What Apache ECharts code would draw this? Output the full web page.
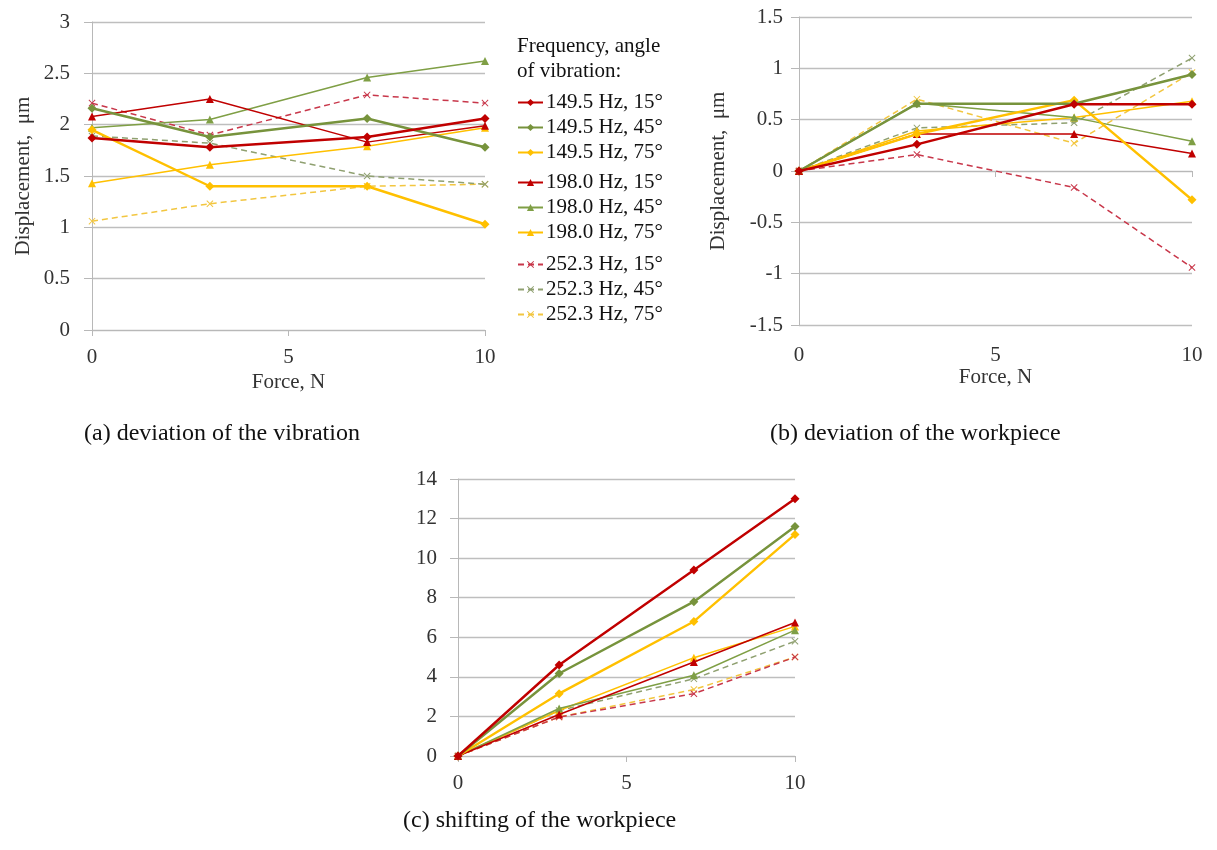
<!DOCTYPE html>
<html>
<head>
<meta charset="utf-8">
<script src="https://cdn.jsdelivr.net/npm/echarts@6/dist/echarts.min.js"></script>
<style>
html,body{margin:0;padding:0;background:#fff;}
#chart{width:1217px;height:850px;}
</style>
</head>
<body>
<div id="chart"></div>
<script>
// ---------------- data ----------------
const force = [0, 3, 7, 10];
const seriesNames = [
  '149.5 Hz, 15°', '149.5 Hz, 45°', '149.5 Hz, 75°',
  '198.0 Hz, 15°', '198.0 Hz, 45°', '198.0 Hz, 75°',
  '252.3 Hz, 15°', '252.3 Hz, 45°', '252.3 Hz, 75°'
];
// (a) deviation of the vibration, µm
const vibrationDeviation = [
  [1.87, 1.78, 1.88, 2.06],
  [2.16, 1.88, 2.06, 1.78],
  [1.95, 1.40, 1.40, 1.03],
  [2.08, 2.25, 1.83, 1.99],
  [1.97, 2.05, 2.46, 2.62],
  [1.43, 1.61, 1.79, 1.97],
  [2.21, 1.90, 2.29, 2.21],
  [1.89, 1.82, 1.50, 1.42],
  [1.06, 1.23, 1.40, 1.42]
];
// (b) deviation of the workpiece, µm
const workpieceDeviation = [
  [0, 0.26, 0.65, 0.65],
  [0, 0.655, 0.655, 0.94],
  [0, 0.36, 0.69, -0.28],
  [0, 0.36, 0.36, 0.17],
  [0, 0.66, 0.52, 0.29],
  [0, 0.39, 0.52, 0.68],
  [0, 0.16, -0.16, -0.94],
  [0, 0.42, 0.47, 1.10],
  [0, 0.70, 0.27, 0.96]
];
// (c) shifting of the workpiece
const workpieceShift = [
  [0, 4.6, 9.4, 13.0],
  [0, 4.17, 7.8, 11.6],
  [0, 3.15, 6.8, 11.2],
  [0, 2.1, 4.75, 6.75],
  [0, 2.4, 4.08, 6.36],
  [0, 2.3, 4.97, 6.55],
  [0, 1.97, 3.15, 5.0],
  [0, 2.3, 3.9, 5.8],
  [0, 1.97, 3.36, 5.0]
];
const yTicksA = {min: 0, max: 3, interval: 0.5};
const yTicksB = {min: -1.5, max: 1.5, interval: 0.5};
const yTicksC = {min: 0, max: 14, interval: 2};
const xTicks = {min: 0, max: 10, interval: 5};
const captions = ['(a) deviation of the vibration', '(b) deviation of the workpiece', '(c) shifting of the workpiece'];
const axisNameY = 'Displacement,  μm';
const axisNameX = 'Force, N';
const legendTitle = 'Frequency, angle\nof vibration:';

// ---------------- styles ----------------
const FONT = '"Liberation Serif", "Times New Roman", serif';
const colors = ['#C00000', '#77933C', '#FFC000', '#C00000', '#7F9F45', '#FFC000', '#C8374A', '#8FA070', '#F2C640'];
const xPath = 'path://M0,1 L1,0 L5,4 L9,0 L10,1 L6,5 L10,9 L9,10 L5,6 L1,10 L0,9 L4,5 Z';
const symbols = ['diamond','diamond','diamond','triangle','triangle','triangle',xPath,xPath,xPath];
const symbolSizes = [9,9,9,8,8,8,7,7,7];
const widths = [2.4,2.4,2.4,1.5,1.5,1.5,1.5,1.5,1.5];
const types = ['solid','solid','solid','solid','solid','solid',[6,4],[6,4],[6,4]];

const GRID_C = '#BEBEBE';
const AXIS_C = '#B8B8B8';
const TXT = '#333';

function yAxis(grid, t, margin, name, gap) {
  return {
    type: 'value', gridIndex: grid, min: t.min, max: t.max, interval: t.interval,
    axisLine: {show: true, lineStyle: {color: AXIS_C, width: 1}},
    axisTick: {show: true, length: 8, lineStyle: {color: AXIS_C}},
    splitLine: {show: true, lineStyle: {color: GRID_C, width: 1.3}},
    axisLabel: {fontFamily: FONT, fontSize: 21, color: TXT, margin: margin},
    name: name || '', nameLocation: 'middle', nameGap: gap || 0,
    nameTextStyle: {fontFamily: FONT, fontSize: 21, color: TXT}
  };
}

const option = {
  backgroundColor: '#fff',
  animation: false,
  title: [
    {text: legendTitle, left: 517, top: 34, textStyle: {fontFamily: FONT, fontSize: 21, fontWeight: 'normal', color: '#111', lineHeight: 25}, padding: 0},
    {text: captions[0], left: 84, top: 422, textStyle: {fontFamily: FONT, fontSize: 24, fontWeight: 'normal', color: '#111'}, padding: 0},
    {text: captions[1], left: 770, top: 422, textStyle: {fontFamily: FONT, fontSize: 24, fontWeight: 'normal', color: '#111'}, padding: 0},
    {text: captions[2], left: 403, top: 809, textStyle: {fontFamily: FONT, fontSize: 24, fontWeight: 'normal', color: '#111'}, padding: 0}
  ],
  legend: [0, 1, 2].map(g => ({
    data: seriesNames.slice(g * 3, g * 3 + 3),
    orient: 'vertical', left: 517, top: [90, 170, 252][g],
    itemWidth: 25, itemHeight: 9, itemGap: 0, padding: 0,
    selectedMode: false,
    textStyle: {fontFamily: FONT, fontSize: 21, color: '#111', lineHeight: 25, padding: [0, 0, 0, -2]}
  })),
  grid: [
    {left: 92, top: 22, width: 393, height: 308},
    {left: 799, top: 17, width: 393, height: 308},
    {left: 458, top: 479, width: 337, height: 277}
  ],
  xAxis: [
    {type: 'value', gridIndex: 0, min: xTicks.min, max: xTicks.max, interval: xTicks.interval,
     axisLine: {show: true, onZero: true, lineStyle: {color: AXIS_C}},
     axisTick: {show: true, length: 6, lineStyle: {color: AXIS_C}},
     splitLine: {show: false},
     axisLabel: {fontFamily: FONT, fontSize: 21, color: TXT, margin: 17},
     name: axisNameX, nameLocation: 'middle', nameGap: 42,
     nameTextStyle: {fontFamily: FONT, fontSize: 21, color: TXT}},
    {type: 'value', gridIndex: 1, min: xTicks.min, max: xTicks.max, interval: xTicks.interval,
     position: 'bottom',
     axisLine: {show: false, onZero: false},
     axisTick: {show: false},
     splitLine: {show: false},
     axisLabel: {fontFamily: FONT, fontSize: 21, color: TXT, margin: 20},
     name: axisNameX, nameLocation: 'middle', nameGap: 42,
     nameTextStyle: {fontFamily: FONT, fontSize: 21, color: TXT}},
    {type: 'value', gridIndex: 2, min: xTicks.min, max: xTicks.max, interval: xTicks.interval,
     axisLine: {show: true, onZero: true, lineStyle: {color: AXIS_C}},
     axisTick: {show: true, length: 6, lineStyle: {color: AXIS_C}},
     splitLine: {show: false},
     axisLabel: {fontFamily: FONT, fontSize: 21, color: TXT, margin: 17}},
    {type: 'value', gridIndex: 1, min: xTicks.min, max: xTicks.max, interval: xTicks.interval,
     position: 'bottom',
     axisLine: {show: true, onZero: true, lineStyle: {color: AXIS_C}},
     axisTick: {show: true, length: 6, lineStyle: {color: AXIS_C}},
     splitLine: {show: false},
     axisLabel: {show: false}}
  ],
  yAxis: [
    yAxis(0, yTicksA, 22, axisNameY, 58),
    yAxis(1, yTicksB, 16, axisNameY, 70),
    yAxis(2, yTicksC, 21)
  ],
  series: []
};

const sets = [vibrationDeviation, workpieceDeviation, workpieceShift];
sets.forEach((set, g) => {
  set.forEach((vals, i) => {
    option.series.push({
      type: 'line', name: seriesNames[i],
      xAxisIndex: g, yAxisIndex: g,
      data: force.map((f, k) => [f, vals[k]]),
      symbol: symbols[i], symbolSize: symbolSizes[i],
      showAllSymbol: true,
      lineStyle: {color: colors[i], width: widths[i], type: types[i]},
      itemStyle: {color: colors[i]},
      emphasis: {disabled: true},
      z: 2 + (8 - i) * 0.01
    });
  });
});

const chart = echarts.init(document.getElementById('chart'), null, {renderer: 'canvas'});
chart.setOption(option);
</script>
</body>
</html>
